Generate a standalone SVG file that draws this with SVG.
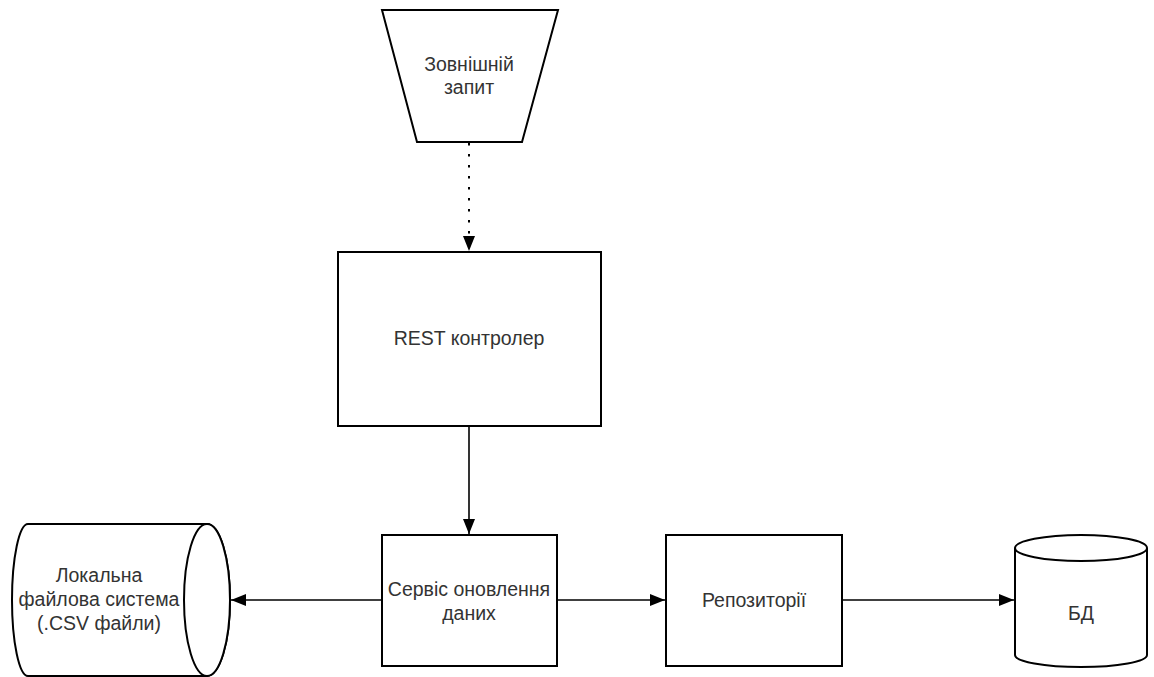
<svg xmlns="http://www.w3.org/2000/svg" width="1154" height="677" viewBox="0 0 1154 677">
<style>
.shape{fill:#fff;stroke:#000;stroke-width:2}
.lbl{font-family:"Liberation Sans",Arial,sans-serif;font-size:19.5px;fill:#333;text-anchor:middle}
.conn{stroke:#000;stroke-width:1.6;fill:none}
.dot{stroke-dasharray:2.5 8.5;stroke-width:2}
</style>
<defs>
<marker id="arr" markerWidth="15" markerHeight="12" refX="15" refY="6" orient="auto" markerUnits="userSpaceOnUse">
<path d="M0,0 L15,6 L0,12 Z" fill="#000"/>
</marker>
</defs>
<rect width="1154" height="677" fill="#fff"/>
<g id="connectors">
<line class="conn dot" x1="469" y1="143" x2="469" y2="251" marker-end="url(#arr)"/>
<line class="conn" x1="469" y1="427" x2="469" y2="534" marker-end="url(#arr)"/>
<line class="conn" x1="382" y1="600" x2="231" y2="600" marker-end="url(#arr)"/>
<line class="conn" x1="557" y1="600" x2="665" y2="600" marker-end="url(#arr)"/>
<line class="conn" x1="842" y1="600" x2="1014" y2="600" marker-end="url(#arr)"/>
</g>
<g id="external-request">
<path class="shape" d="M382,10 L558,10 L522,142 L417,142 Z"/>
<text class="lbl" x="469" y="71">Зовнішній</text>
<text class="lbl" x="469" y="94">запит</text>
</g>
<g id="rest-controller">
<rect class="shape" x="338" y="252" width="263" height="174"/>
<text class="lbl" x="469" y="345">REST контролер</text>
</g>
<g id="update-service">
<rect class="shape" x="382" y="535" width="175" height="131"/>
<text class="lbl" x="469" y="596">Сервіс оновлення</text>
<text class="lbl" x="469" y="620">даних</text>
</g>
<g id="repository">
<rect class="shape" x="666" y="535" width="176" height="131"/>
<text class="lbl" x="754" y="607">Репозиторії</text>
</g>
<g id="local-fs">
<path class="shape" d="M28,524 L207,524 A23,76 0 0 1 207,676 L28,676 A16,76 0 0 1 28,524 Z"/>
<ellipse class="shape" cx="207" cy="600" rx="23" ry="76" fill="none"/>
<text class="lbl" x="99" y="582">Локальна</text>
<text class="lbl" x="99" y="606">файлова система</text>
<text class="lbl" x="99" y="630">(.CSV файли)</text>
</g>
<g id="db">
<path class="shape" d="M1015,548 L1015,655 A66,12 0 0 0 1147,655 L1147,548 A66,13 0 0 0 1015,548 Z"/>
<path class="shape" d="M1015,548 A66,13 0 0 0 1147,548" fill="none"/>
<text class="lbl" x="1081" y="620">БД</text>
</g>
</svg>
